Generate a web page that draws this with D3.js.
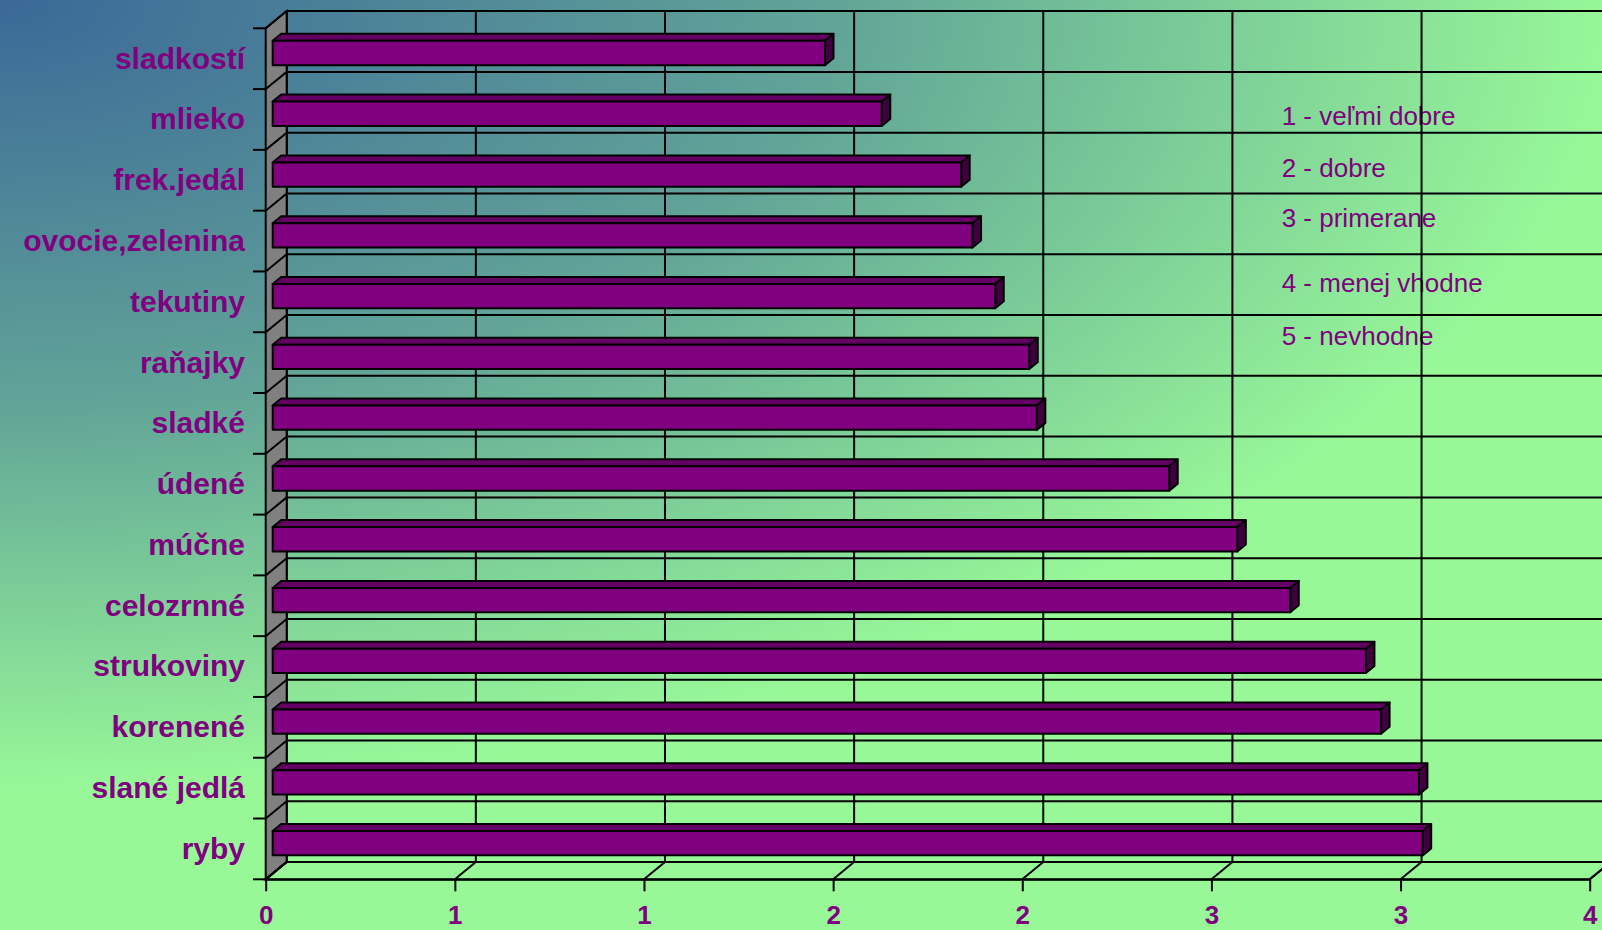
<!DOCTYPE html>
<html>
<head>
<meta charset="utf-8">
<script src="https://cdn.jsdelivr.net/npm/d3@7"></script>
<style>
  html, body { margin: 0; padding: 0; overflow: hidden; }
  svg { display: block; }
</style>
</head>
<body>
<svg id="chart" width="1602" height="930"></svg>
<script>
// Food habit ratings (1 = very good ... 5 = unsuitable), average per item
const categories = ["sladkostí", "mlieko", "frek.jedál", "ovocie,zelenina", "tekutiny",
  "raňajky", "sladké", "údené", "múčne", "celozrnné", "strukoviny", "korenené",
  "slané jedlá", "ryby"];
const values = [1.46, 1.61, 1.82, 1.85, 1.91, 2.00, 2.02, 2.37, 2.55, 2.69, 2.89, 2.93, 3.03, 3.04];
const tickValues = [0, 0.5, 1, 1.5, 2, 2.5, 3, 3.5];
const tickLabels = ["0", "1", "1", "2", "2", "3", "3", "4"];
const legendLines = ["1 - veľmi dobre", "2 - dobre", "3 - primerane", "4 - menej vhodne", "5 - nevhodne"];

const W = 1602, H = 930;
const plot = { left: 265.7, right: 1589.7, top: 28.3, bottom: 879.3 };
const depth = { x: 21, y: -17.2 };        // wall depth projection
const barOffset = { x: 7, y: -5.7 };      // bar front face inside the depth
const barDepth = { x: 8.5, y: -7 };       // bar thickness in depth
const purple = "#800080";
const font = "'Liberation Sans', Arial, sans-serif";

const svg = d3.select("#chart");

// Background: elliptical blend from the top-left corner
const defs = svg.append("defs");
const grad = defs.append("radialGradient")
  .attr("id", "bg")
  .attr("gradientUnits", "userSpaceOnUse")
  .attr("cx", 0).attr("cy", 0).attr("r", 790)
  .attr("gradientTransform", "scale(2.05,1)");
grad.append("stop").attr("offset", 0).attr("stop-color", "#3b6898");
grad.append("stop").attr("offset", 0.52).attr("stop-color", "#62a598");
grad.append("stop").attr("offset", 1).attr("stop-color", "#98f898");
svg.append("rect").attr("width", W).attr("height", H).attr("fill", "url(#bg)");

const x = d3.scaleLinear().domain([0, 3.5]).range([plot.left, plot.right]);
const y = d3.scaleBand().domain(categories).range([plot.top, plot.bottom]).padding(0);
const bw = y.bandwidth();
const boundaries = categories.map(c => y(c)).concat([plot.bottom]);

// Legend text box
svg.append("g").selectAll("text")
  .data(legendLines)
  .join("text")
  .attr("x", 1281.7)
  .attr("y", (d, i) => [125, 176.7, 227.3, 292.3, 345][i])
  .attr("fill", purple)
  .attr("font-family", font)
  .attr("font-size", 26)
  .text(d => d);

const lines = svg.append("g").attr("stroke", "#000").attr("stroke-width", 2).attr("fill", "none");

// Back wall gridlines
lines.selectAll("line.h")
  .data(boundaries)
  .join("line")
  .attr("x1", plot.left + depth.x).attr("x2", x(3.5) + depth.x)
  .attr("y1", d => d + depth.y).attr("y2", d => d + depth.y);
lines.selectAll("line.v")
  .data(tickValues)
  .join("line")
  .attr("x1", d => x(d) + depth.x).attr("x2", d => x(d) + depth.x)
  .attr("y1", plot.top + depth.y).attr("y2", plot.bottom + depth.y);

// Side wall
svg.append("polygon")
  .attr("points", [
    [plot.left, plot.bottom], [plot.left, plot.top],
    [plot.left + depth.x, plot.top + depth.y], [plot.left + depth.x, plot.bottom + depth.y]
  ].map(p => p.join(",")).join(" "))
  .attr("fill", "#808080").attr("stroke", "#000").attr("stroke-width", 2);
svg.append("g").attr("stroke", "#000").attr("stroke-width", 2)
  .selectAll("line")
  .data(boundaries)
  .join("line")
  .attr("x1", plot.left).attr("y1", d => d)
  .attr("x2", plot.left + depth.x).attr("y2", d => d + depth.y);

// Category tick marks
svg.append("g").attr("stroke", "#000").attr("stroke-width", 2)
  .selectAll("line")
  .data(boundaries)
  .join("line")
  .attr("x1", plot.left - 12.7).attr("x2", plot.left)
  .attr("y1", d => d).attr("y2", d => d);

// Floor
svg.append("polygon")
  .attr("points", [
    [plot.left, plot.bottom], [plot.right, plot.bottom],
    [plot.right + depth.x, plot.bottom + depth.y], [plot.left + depth.x, plot.bottom + depth.y]
  ].map(p => p.join(",")).join(" "))
  .attr("fill", "none").attr("stroke", "#000").attr("stroke-width", 2);
svg.append("g").attr("stroke", "#000").attr("stroke-width", 2)
  .selectAll("line")
  .data(tickValues)
  .join("line")
  .attr("x1", d => x(d)).attr("y1", plot.bottom)
  .attr("x2", d => x(d) + depth.x).attr("y2", plot.bottom + depth.y);

// 3D bars
const bars = svg.append("g").attr("stroke", "#000").attr("stroke-width", 2).attr("stroke-linejoin", "round");
const barH = bw * 0.4;
categories.forEach((c, i) => {
  const v = values[i];
  const x0 = x(0) + barOffset.x;
  const x1 = x(v) + barOffset.x;
  const yc = y(c) + bw / 2 + barOffset.y;
  const yt = yc - barH / 2, yb = yc + barH / 2;
  const g = bars.append("g");
  g.append("polygon")
    .attr("points", [[x0, yt], [x1, yt], [x1 + barDepth.x, yt + barDepth.y], [x0 + barDepth.x, yt + barDepth.y]]
      .map(p => p.join(",")).join(" "))
    .attr("fill", "#640064");
  g.append("polygon")
    .attr("points", [[x1, yt], [x1 + barDepth.x, yt + barDepth.y], [x1 + barDepth.x, yb + barDepth.y], [x1, yb]]
      .map(p => p.join(",")).join(" "))
    .attr("fill", "#400040");
  g.append("rect")
    .attr("x", x0).attr("y", yt)
    .attr("width", x1 - x0).attr("height", barH)
    .attr("fill", purple);
});

// Value axis
const axis = svg.append("g")
  .attr("transform", `translate(0,${plot.bottom})`)
  .call(d3.axisBottom(x)
    .tickValues(tickValues)
    .tickFormat((d, i) => tickLabels[i])
    .tickSize(12)
    .tickSizeOuter(0)
    .tickPadding(14));
axis.select(".domain").attr("stroke", "#000").attr("stroke-width", 2);
axis.selectAll(".tick line").attr("stroke", "#000").attr("stroke-width", 2);
axis.selectAll(".tick text")
  .attr("fill", purple)
  .attr("font-family", font)
  .attr("font-weight", "bold")
  .attr("font-size", 26);

// Category labels
svg.append("g").selectAll("text")
  .data(categories)
  .join("text")
  .attr("x", 245)
  .attr("y", d => y(d) + bw / 2)
  .attr("dy", "0.33em")
  .attr("text-anchor", "end")
  .attr("fill", purple)
  .attr("font-family", font)
  .attr("font-weight", "bold")
  .attr("font-size", 30)
  .text(d => d);
</script>
</body>
</html>
